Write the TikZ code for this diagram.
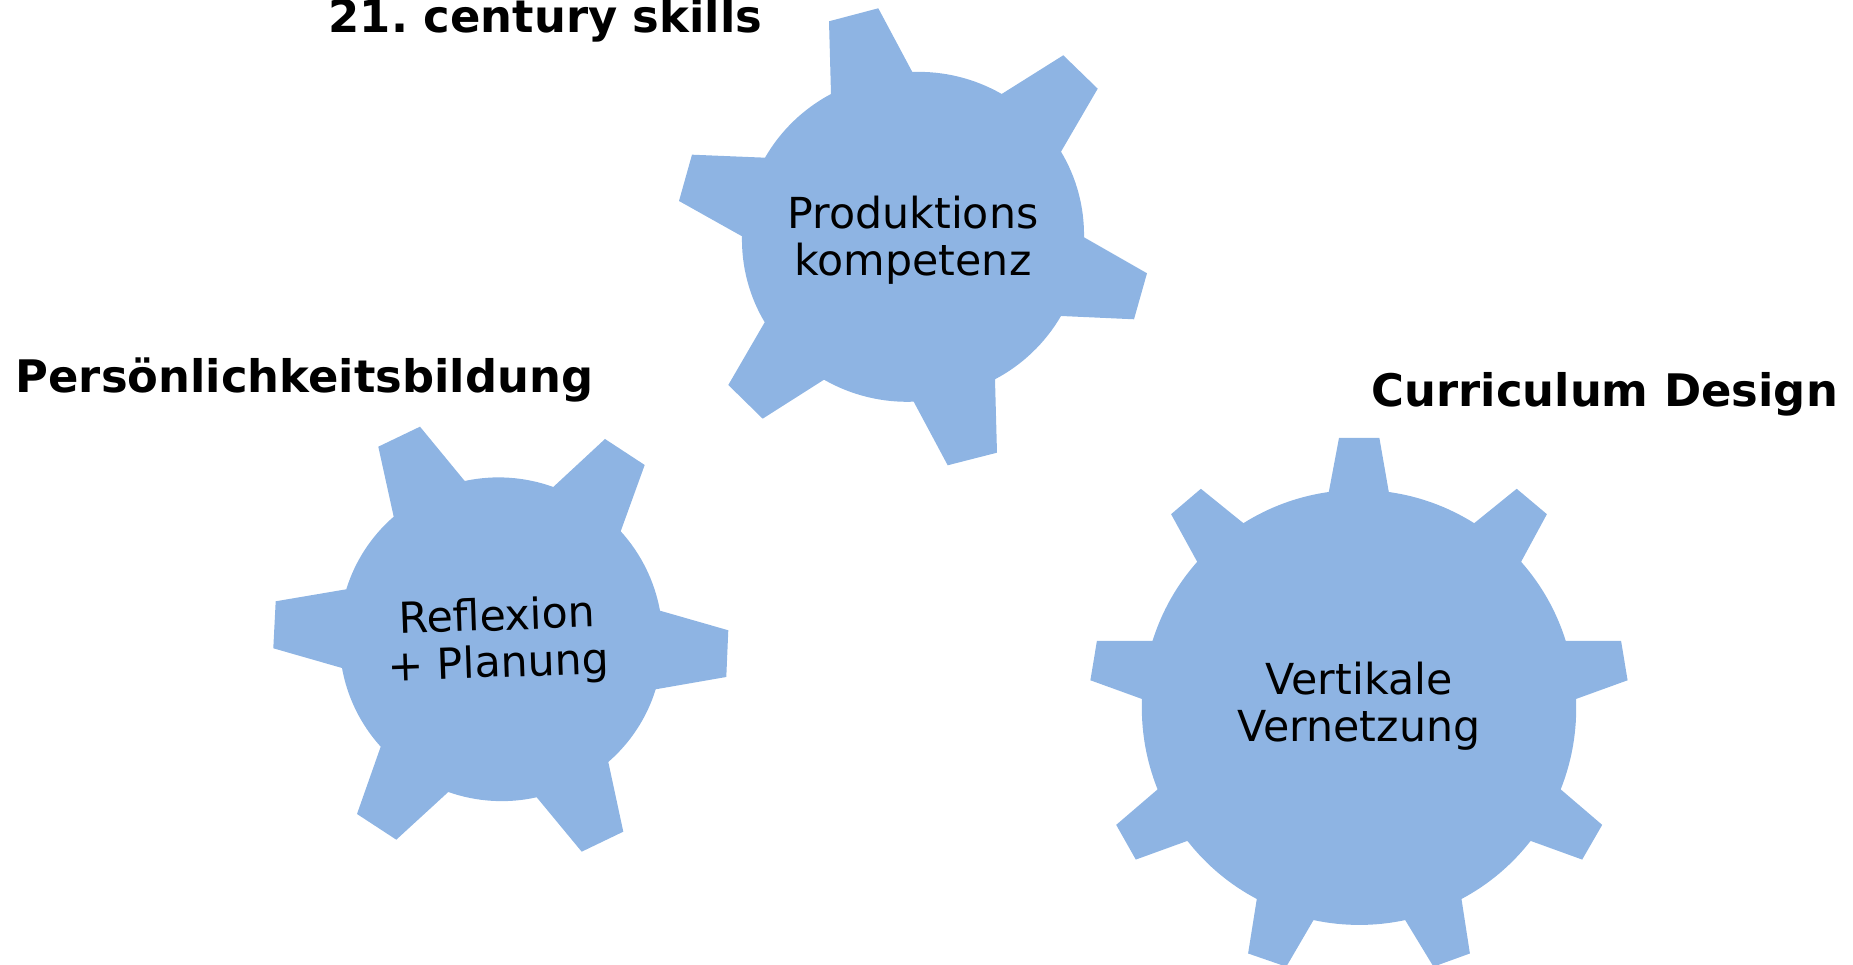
\documentclass[tikz,border=0pt]{standalone}
\usepackage{fontspec}
\setmainfont{DejaVu Sans}
\usepackage{tikz}
\definecolor{gearblue}{HTML}{8EB4E3}
\tikzstyle{gear} = [fill=gearblue]
\tikzstyle{gearlabel} = [align=center, font=\fontsize{12.15}{13.3}\selectfont, inner sep=0pt]
\tikzstyle{heading} = [anchor=base west, font=\fontsize{12.75}{14}\selectfont\bfseries\frenchspacing, inner sep=0pt]
\tikzset{rim/.style={bend left=#1, looseness=0.87}}

\begin{document}
\begin{tikzpicture}[x=0.01cm, y=-0.01cm]

\useasboundingbox (0,0) rectangle (1853,965);
\clip (0,0) rectangle (1853,965);

% upper gear
\fill [gear] (831,94) -- (829,21.3) -- (878.3,8.3) -- (912.3,72)
  to[rim=16] (1001.7,94) -- (1063.3,55.3) -- (1097.7,88.7) -- (1061,151.7)
  to[rim=16] (1084,237.3) -- (1147,273.3) -- (1134,319.3) -- (1061,316)
  to[rim=16] (995,379.3) -- (997,452.7) -- (947.7,465.3) -- (913.7,401.7)
  to[rim=16] (824,379.7) -- (762.7,418.7) -- (728.3,385) -- (764.7,322.3)
  to[rim=16] (742,236.3) -- (679,201) -- (692,154.7) -- (765,157.7)
  to[rim=16] cycle;

% left gear
\fill [gear] (393.7,516.7) -- (378.3,446.7) -- (420,426.7) -- (464.7,481)
  to[rim=16] (553.3,487) -- (605,439) -- (644.7,465) -- (620.7,531.3)
  to[rim=16] (660,610.7) -- (728.3,630.3) -- (726.3,677) -- (655.7,689.3)
  to[rim=16] (608.3,762) -- (623.3,831.7) -- (581.7,851.7) -- (536.7,797.3)
  to[rim=16] (448.3,792) -- (396.3,839.7) -- (357,814) -- (380.7,746.7)
  to[rim=16] (342,668) -- (273.3,648.3) -- (275.7,601.3) -- (346.3,589.3)
  to[rim=16] cycle;

% right gear
\fill [gear] (1328.8,492) -- (1339,438) -- (1379.4,438) -- (1388.8,492)
  to[rim=12] (1474.2,523.2) -- (1516.7,488.8) -- (1546.9,514.2) -- (1521.1,561.8)
  to[rim=12] (1565.8,641) -- (1621.1,641) -- (1627.6,680.3) -- (1576,699)
  to[rim=12] (1560.7,789.4) -- (1602.2,824.9) -- (1582.2,859.6) -- (1530.6,840.9)
  to[rim=12] (1461.5,899) -- (1469.9,953.5) -- (1433.5,966.7) -- (1405.2,920.1)
  to[rim=12] (1313.5,920.1) -- (1286.3,966.7) -- (1248.1,953.5) -- (1256.8,899)
  to[rim=12] (1187.4,840.9) -- (1135.8,859.6) -- (1116.2,824.9) -- (1157.6,789.4)
  to[rim=12] (1142,699) -- (1090.4,680.3) -- (1096.9,641) -- (1152.5,641)
  to[rim=12] (1197.2,561.8) -- (1171.1,514.2) -- (1200.9,488.8) -- (1243.4,523.2)
  to[rim=12] cycle;

\node (produktion) [gearlabel] at (913,240) {Produktions\\kompetenz};
\node (reflexion) [gearlabel, rotate=2] at (498,642) {Reflexion\\+ Planung};
\node (vernetzung) [gearlabel] at (1359,706) {Vertikale\\Vernetzung};

\node (skills) [heading] at (328,33) {21. century skills};
\node (bildung) [heading] at (15,393) {Persönlichkeitsbildung};
\node (design) [heading] at (1371,407) {Curriculum Design};

\end{tikzpicture}
\end{document}
